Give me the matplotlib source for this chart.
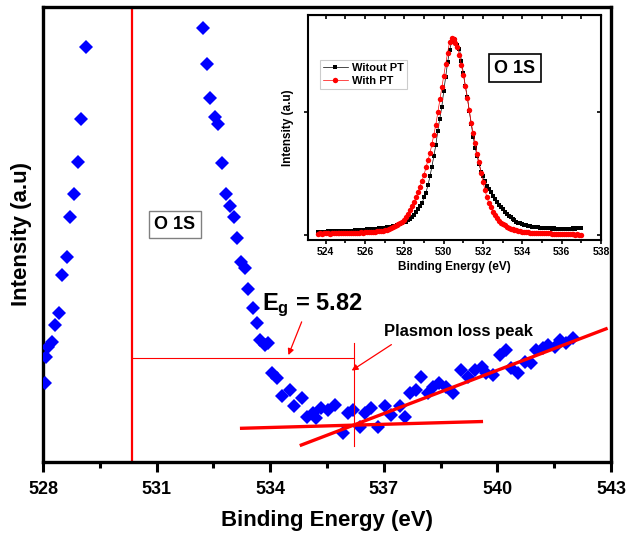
import numpy as np
import matplotlib
matplotlib.use('Agg')
import matplotlib.pyplot as plt
from matplotlib.ticker import MultipleLocator, NullLocator

plt.rcParams['font.family'] = ['Liberation Sans', 'DejaVu Sans']
plt.rcParams['font.weight'] = 'bold'
plt.rcParams['axes.labelweight'] = 'bold'
plt.rcParams['mathtext.fontset'] = 'custom'
plt.rcParams['mathtext.rm'] = 'Liberation Sans:bold'
plt.rcParams['mathtext.bf'] = 'Liberation Sans:bold'
plt.rcParams['mathtext.it'] = 'Liberation Sans:bold'

# ---------------- main panel data (O 1s loss region) ----------------
main_energy = [528.05, 528.07, 528.14, 528.23, 528.32, 528.41, 528.51, 528.63,
               528.70, 528.82, 528.92, 529.01, 529.13,
               532.23, 532.33, 532.42, 532.53, 532.63, 532.73, 532.83, 532.93,
               533.05, 533.13, 533.22, 533.33, 533.42, 533.55, 533.64, 533.74,
               533.86, 533.94, 534.05, 534.17, 534.32, 534.52, 534.63, 534.83,
               534.96, 535.13, 535.22, 535.35, 535.53, 535.70, 535.92, 536.06,
               536.19, 536.36, 536.50, 536.67, 536.85, 537.02, 537.20, 537.42,
               537.55, 537.68, 537.86, 537.99, 538.17, 538.30, 538.47, 538.65,
               538.83, 539.05, 539.22, 539.40, 539.58, 539.71, 539.88, 540.06,
               540.23, 540.37, 540.54, 540.72, 540.89, 541.03, 541.20, 541.33,
               541.51, 541.64, 541.82, 541.99]
main_intensity = [17.4, 23.1, 25.3, 26.4, 30.1, 32.8, 41.0, 45.1,
                  53.8, 58.8, 66.0, 75.3, 91.1,
                  95.3, 87.4, 80.1, 75.8, 74.3, 65.8, 58.8, 56.3,
                  53.8, 49.2, 44.0, 42.6, 38.0, 33.8, 30.5, 26.8,
                  25.7, 26.1, 19.5, 18.4, 14.4, 15.8, 12.2, 14.0,
                  10.0, 10.7, 9.6, 11.8, 11.4, 12.5, 6.3, 10.7,
                  11.4, 7.8, 10.7, 11.8, 7.8, 12.2, 10.3, 12.2,
                  10.0, 15.1, 15.8, 18.7, 15.1, 16.5, 17.3, 16.5,
                  15.1, 20.2, 18.7, 20.2, 20.9, 19.5, 19.1, 23.5,
                  24.6, 20.6, 19.5, 22.0, 21.7, 24.6, 25.0, 25.7,
                  25.3, 26.8, 26.1, 27.2]

# band-gap construction
vb_edge = 530.35
loss_onset = 536.2
eg_level = 22.9
onset_span = [3.6, 26.1]
base_fit_x = [533.20, 539.62]
base_fit_y = [7.4, 8.9]
slope_fit_x = [534.78, 542.91]
slope_fit_y = [3.6, 29.4]

main_xticks = [528, 531, 534, 537, 540, 543]

# ---------------- inset data (O 1s spectra) ----------------
inset_start = 523.6
inset_step = 0.1
without_pt = [0.025, 0.027, 0.026, 0.028, 0.027, 0.029, 0.028, 0.030, 0.029, 0.031,
              0.030, 0.032, 0.033, 0.031, 0.034, 0.035, 0.034, 0.037, 0.036, 0.038,
              0.040, 0.039, 0.042, 0.041, 0.044, 0.046, 0.045, 0.048, 0.050, 0.049,
              0.052, 0.054, 0.055, 0.058, 0.060, 0.062, 0.065, 0.068, 0.071, 0.075,
              0.079, 0.084, 0.089, 0.095, 0.102, 0.110, 0.120, 0.132, 0.145, 0.162,
              0.185, 0.210, 0.235, 0.260, 0.305, 0.345, 0.405, 0.475, 0.555, 0.645,
              0.730, 0.845, 0.945, 1.035, 1.165, 1.280, 1.400, 1.500, 1.565, 1.590,
              1.580, 1.545, 1.510, 1.415, 1.310, 1.210, 1.122, 1.005, 0.900, 0.797,
              0.710, 0.640, 0.575, 0.515, 0.475, 0.435, 0.400, 0.375, 0.348, 0.318,
              0.290, 0.266, 0.247, 0.228, 0.208, 0.190, 0.174, 0.158, 0.145, 0.132,
              0.120, 0.108, 0.100, 0.094, 0.087, 0.082, 0.078, 0.074, 0.071, 0.068,
              0.066, 0.064, 0.062, 0.060, 0.058, 0.057, 0.055, 0.056, 0.054, 0.053,
              0.054, 0.052, 0.053, 0.051, 0.052, 0.050, 0.052, 0.051, 0.053, 0.052,
              0.054, 0.053, 0.055, 0.054, 0.056]
with_pt = [0.012, 0.013, 0.012, 0.014, 0.013, 0.014, 0.012, 0.015, 0.013, 0.014,
           0.015, 0.013, 0.016, 0.015, 0.016, 0.017, 0.015, 0.018, 0.017, 0.019,
           0.018, 0.020, 0.021, 0.020, 0.022, 0.023, 0.022, 0.025, 0.026, 0.028,
           0.030, 0.031, 0.034, 0.037, 0.041, 0.045, 0.050, 0.056, 0.062, 0.070,
           0.078, 0.087, 0.097, 0.108, 0.120, 0.145, 0.170, 0.200, 0.235, 0.268,
           0.305, 0.350, 0.393, 0.440, 0.487, 0.550, 0.605, 0.665, 0.735, 0.815,
           0.895, 0.995, 1.100, 1.200, 1.290, 1.385, 1.480, 1.565, 1.600, 1.590,
           1.560, 1.522, 1.460, 1.375, 1.300, 1.205, 1.115, 1.015, 0.910, 0.825,
           0.750, 0.655, 0.590, 0.505, 0.430, 0.365, 0.305, 0.260, 0.225, 0.190,
           0.162, 0.138, 0.118, 0.100, 0.088, 0.078, 0.068, 0.060, 0.053, 0.047,
           0.042, 0.038, 0.034, 0.031, 0.028, 0.026, 0.024, 0.022, 0.020, 0.019,
           0.018, 0.017, 0.016, 0.016, 0.015, 0.014, 0.014, 0.013, 0.013, 0.012,
           0.012, 0.011, 0.010, 0.011, 0.009, 0.008, 0.009, 0.007, 0.006, 0.007,
           0.005, 0.004, 0.005, 0.003, 0.002]
inset_xticks = [524, 526, 528, 530, 532, 534, 536, 538]
inset_yticks = [0, 1]

# ---------------- figure ----------------
fig = plt.figure(figsize=(6.30, 5.33), dpi=100)
ax = fig.add_axes([0.0683, 0.1332, 0.9016, 0.8537])

ax.plot(main_energy, main_intensity, linestyle='none', marker='D',
        markersize=7.4, color='#0000ff', markeredgewidth=0, zorder=3)

ax.axvline(vb_edge, color='red', lw=1.6, zorder=2)
ax.plot([vb_edge, loss_onset], [eg_level, eg_level], color='red', lw=0.8, zorder=2)
ax.plot([loss_onset, loss_onset], onset_span, color='red', lw=0.8, zorder=4)
ax.plot(base_fit_x, base_fit_y, color='red', lw=2.4, solid_capstyle='butt', zorder=4)
ax.plot(slope_fit_x, slope_fit_y, color='red', lw=2.4, solid_capstyle='butt', zorder=4)

ax.annotate('', xy=(534.48, 23.5), xytext=(534.83, 30.8),
            arrowprops=dict(arrowstyle='-|>', color='red', lw=0.9,
                            mutation_scale=9, shrinkA=0, shrinkB=0))
ax.annotate('', xy=(536.15, 20.1), xytext=(537.2, 25.8),
            arrowprops=dict(arrowstyle='-|>', color='red', lw=0.9,
                            mutation_scale=9, shrinkA=0, shrinkB=0))

ax.text(533.77, 33.4, r'$\mathbf{E_g}$ = 5.82', fontsize=17, fontweight='bold',
        ha='left', va='baseline')
ax.text(538.98, 28.6, 'Plasmon loss peak', fontsize=12, fontweight='bold',
        ha='center', va='center')
ax.text(531.48, 52.2, 'O 1S', fontsize=13, fontweight='bold', ha='center', va='center',
        bbox=dict(boxstyle='square,pad=0.3', fc='white', ec='#808080', lw=1.0))

ax.set_xlim(528, 543)
ax.set_ylim(0, 100)
ax.set_xticks(main_xticks)
ax.xaxis.set_minor_locator(MultipleLocator(1.5))
ax.yaxis.set_major_locator(NullLocator())
ax.tick_params(axis='x', which='major', direction='out', length=7, width=2.2,
               labelsize=13, pad=7)
ax.tick_params(axis='x', which='minor', direction='out', length=4.5, width=2.2)
for lab in ax.get_xticklabels():
    lab.set_fontweight('bold')
for s in ax.spines.values():
    s.set_linewidth(2.4)
ax.set_xlabel('Binding Energy (eV)', fontsize=16, fontweight='bold', labelpad=8)
ax.set_ylabel('Intensity (a.u)', fontsize=16, fontweight='bold', labelpad=8)

# ---------------- inset ----------------
ins = fig.add_axes([0.4889, 0.5497, 0.4651, 0.4221])
e_wo = inset_start + inset_step * np.arange(len(without_pt))
e_w = inset_start + inset_step * np.arange(len(with_pt))
ins.plot(e_wo, without_pt, color='black', lw=0.5, marker='s', markersize=3.3,
         markeredgewidth=0, label='Witout PT', zorder=3)
ins.plot(e_w, with_pt, color='red', lw=0.5, marker='o', markersize=3.9,
         markeredgewidth=0, label='With PT', zorder=4)
ins.set_xlim(523.1, 538.0)
ins.set_ylim(-0.04, 1.784)
ins.set_xticks(inset_xticks)
ins.xaxis.set_minor_locator(MultipleLocator(1))
ins.set_yticks(inset_yticks)
ins.set_yticklabels([])
ins.tick_params(axis='both', which='major', direction='out', length=3, width=1.2,
                labelsize=7.5, pad=2)
ins.tick_params(axis='x', which='minor', direction='out', length=2, width=1.2)
for lab in ins.get_xticklabels():
    lab.set_fontweight('bold')
for s in ins.spines.values():
    s.set_linewidth(1.5)
# mirrored inward ticks on top/right
sec_top = ins.secondary_xaxis('top')
sec_top.set_xticks(list(range(524, 539)))
sec_top.tick_params(direction='in', length=3, width=1.2)
sec_top.set_xticklabels([])
sec_r = ins.secondary_yaxis('right')
sec_r.set_yticks(inset_yticks)
sec_r.set_yticklabels([])
sec_r.tick_params(direction='in', length=3, width=1.2)
ins.set_xlabel('Binding Energy (eV)', fontsize=8.5, fontweight='bold', labelpad=3)
ins.set_ylabel('Intensity (a.u)', fontsize=8.5, fontweight='bold', labelpad=5)

leg = ins.legend(loc='upper left', bbox_to_anchor=(0.04, 0.80), fontsize=8,
                 frameon=True, fancybox=False, edgecolor='#c0c0c0',
                 handlelength=2.2, borderpad=0.3, labelspacing=0.2,
                 handletextpad=0.4, borderaxespad=0)
leg.get_frame().set_linewidth(0.8)
for t in leg.get_texts():
    t.set_fontweight('bold')

ins.text(0.706, 0.763, 'O 1S', transform=ins.transAxes, fontsize=13,
         fontweight='bold', ha='center', va='center',
         bbox=dict(boxstyle='square,pad=0.3', fc='white', ec='black', lw=1.2))

fig.savefig('out.png', dpi=100)
